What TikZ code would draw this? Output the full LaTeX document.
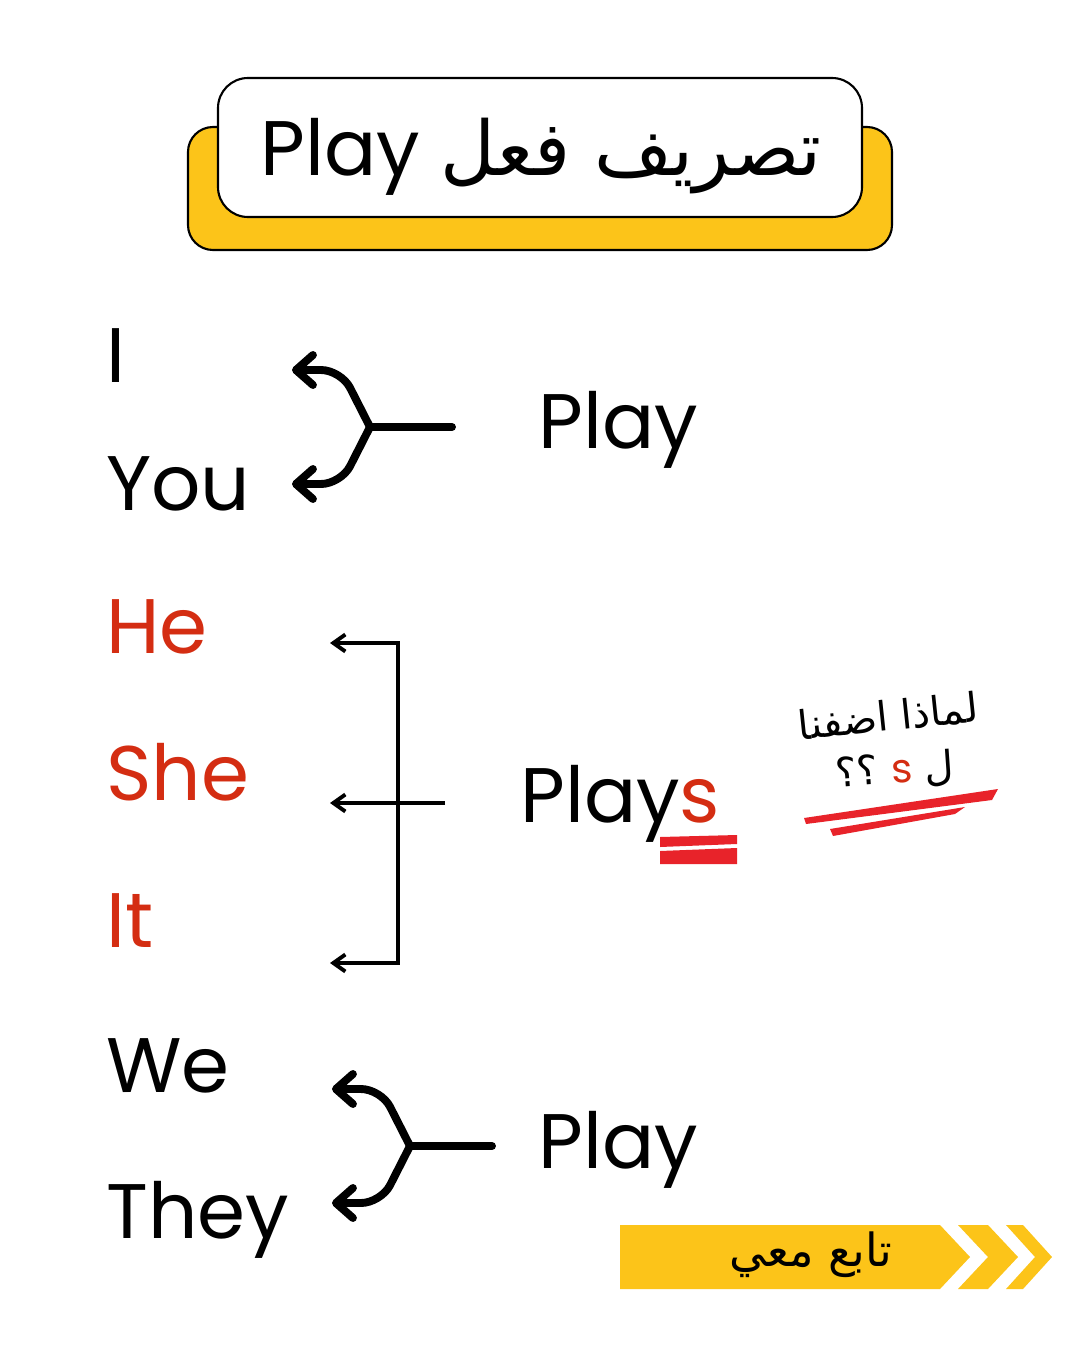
\documentclass[tikz,border=0pt]{standalone}
\usepackage{fontspec}
\setmainfont{Poppins}
\newfontfamily\arabicfont[Script=Arabic]{DejaVu Sans}
\TeXXeTstate=1
\usetikzlibrary{arrows.meta}
\definecolor{plyellow}{HTML}{FCC419}
\definecolor{plred}{HTML}{D42D12}
\definecolor{markred}{HTML}{E8232A}
\tikzset{
  pron/.style={font=\fontsize{44}{50}\selectfont, anchor=base west, inner sep=0pt},
  verb/.style={font=\fontsize{44}{50}\selectfont, anchor=base west, inner sep=0pt},
  fork/.style={line width=4.5pt, line cap=round, line join=round, rounded corners=0.4cm},
  forktip/.style={-{Straight Barb[length=0.34cm,width=0.6cm,round]}},
  brk/.style={line width=2.2pt},
  brktip/.style={-{Straight Barb[length=0.24cm,width=0.34cm]}},
}
\begin{document}
\begin{tikzpicture}[x=0.02cm,y=-0.02cm]
\useasboundingbox (0,0) rectangle (1080,1352);
\fill[white] (0,0) rectangle (1080,1352);

% title
\draw[fill=plyellow,line width=1.2pt,rounded corners=0.5cm] (188,127) rectangle (892,250);
\draw[fill=white,line width=1.2pt,rounded corners=0.6cm] (218,78) rectangle (862,217);
\node[font=\fontsize{44}{50}\selectfont, anchor=base, inner sep=0pt] (title) at (541,175)
  {Play {\arabicfont\fontsize{43}{50}\selectfont\beginR تصريف فعل\endR}};

% pronouns
\node[pron] (I) at (106,382) {I};
\node[pron] (You) at (106,510) {You};
\node[pron,text=plred] (He) at (106,653) {He};
\node[pron,text=plred] (She) at (106,800) {She};
\node[pron,text=plred] (It) at (106,947) {It};
\node[pron] (We) at (106,1092) {We};
\node[pron] (They) at (106,1238) {They};

% verbs
\node[verb] (play1) at (538,448) {Play};
\node[verb] (plays) at (520,822) {Play\textcolor{plred}{s}};
\node[verb] (play2) at (538,1168) {Play};

% I / You
\coordinate (j1) at (370,427);
\coordinate (s1) at (452,427);
\coordinate (a1) at (292,370);
\coordinate (b1) at (292,484);
\draw[fork] (s1) -- (j1);
\draw[fork,forktip] (j1) -- (341,370) -- (a1);
\draw[fork,forktip] (j1) -- (341,484) -- (b1);

% He / She / It
\coordinate (ct) at (398,643);
\coordinate (cb) at (398,963);
\coordinate (m3) at (445,803);
\coordinate (tHe) at (330,643);
\coordinate (tShe) at (330,803);
\coordinate (tIt) at (330,963);
\draw[brk,{Straight Barb[length=0.24cm,width=0.34cm]}-{Straight Barb[length=0.24cm,width=0.34cm]}] (tHe) -- (ct) -- (cb) -- (tIt);
\draw[brk,brktip] (m3) -- (tShe);

% We / They
\coordinate (j2) at (410,1146);
\coordinate (s2) at (492,1146);
\coordinate (a2) at (332,1089);
\coordinate (b2) at (332,1203);
\draw[fork] (s2) -- (j2);
\draw[fork,forktip] (j2) -- (381,1089) -- (a2);
\draw[fork,forktip] (j2) -- (381,1203) -- (b2);

% s marks
\fill[markred] (660,837) -- (737,835) -- (737,844) -- (660,847) -- cycle;
\fill[markred] (660,851) -- (737,848) -- (737,864) -- (660,864) -- cycle;

% note
\node[rotate=6, inner sep=0pt, font=\arabicfont\fontsize{23}{26}\selectfont] (why) at (888,716) {\beginR لماذا اضفنا\endR};
\node[rotate=4, inner sep=0pt, font=\arabicfont\fontsize{23}{26}\selectfont] (whys) at (895,771) {؟؟ \textcolor{plred}{\normalfont s} ل};
\fill[markred] (804,818) -- (998,789) -- (992,800) -- (806,824) -- cycle;
\fill[markred] (830,829) -- (965,807) -- (955,814) -- (833,836) -- cycle;

% follow banner
\fill[plyellow] (620,1225) -- (940,1225) -- (970,1257) -- (940,1289) -- (620,1289) -- cycle;
\fill[plyellow] (958,1225) -- (988,1225) -- (1018,1257) -- (988,1289) -- (958,1289) -- (988,1257) -- cycle;
\fill[plyellow] (1006,1225) -- (1023,1225) -- (1052,1257) -- (1023,1289) -- (1006,1289) -- (1035,1257) -- cycle;
\node[inner sep=0pt, font=\arabicfont\fontsize{26}{30}\selectfont] (follow) at (811,1255) {\beginR تابع معي\endR};
\end{tikzpicture}
\end{document}
